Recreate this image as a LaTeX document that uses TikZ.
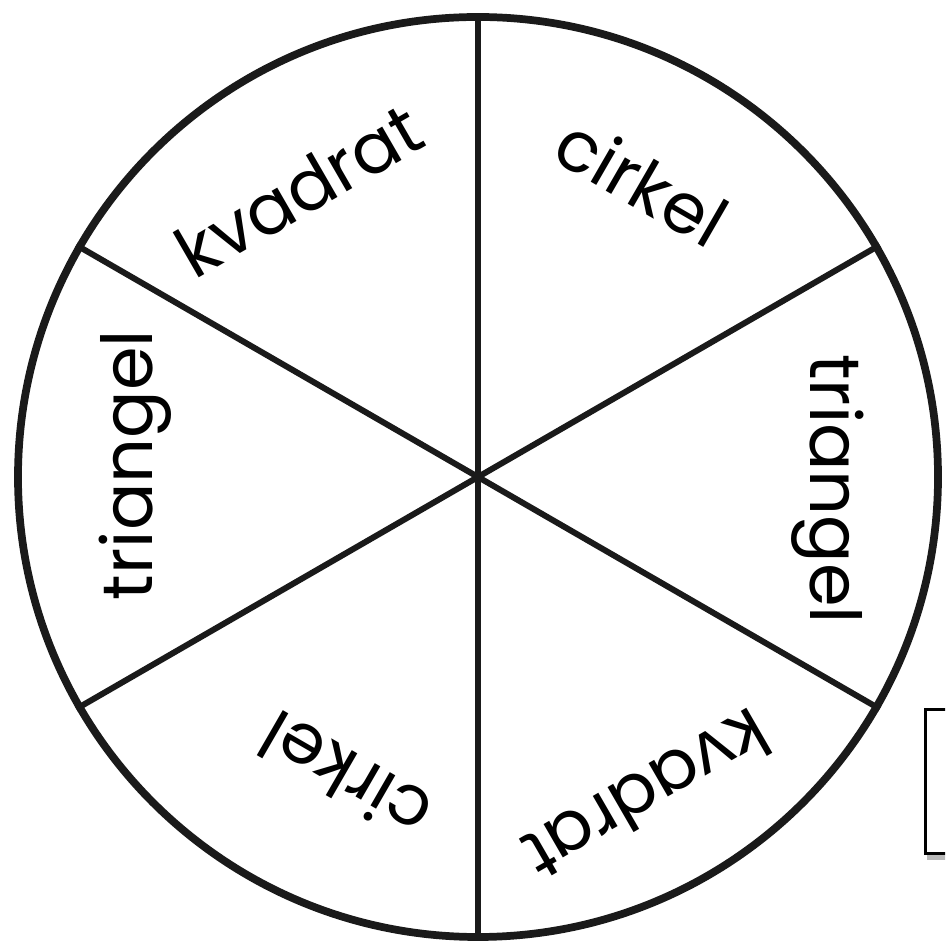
\documentclass[tikz,border=0pt]{standalone}
\usepackage{fontspec}
\setmainfont{Poppins}
\usepackage{tikz}
\usetikzlibrary{positioning}
\usepackage{xcolor}
\definecolor{WheelBlack}{HTML}{1A1A1A}
\definecolor{ShadowGray}{HTML}{B8B8B8}
\tikzset{
    % Wheel outline and spokes
    wheel/.style={
        circle,
        draw=WheelBlack,
        line width=2.2pt,
        minimum size=9.2cm,
        inner sep=0pt
    },
    spoke/.style={
        draw=WheelBlack,
        line width=1.7pt
    },
    % Sector labels
    word/.style={
        font=\fontsize{20}{24}\selectfont,
        text=black,
        inner sep=0pt
    },
    % Card at the edge
    cardbox/.style={
        rectangle,
        draw=black,
        fill=white,
        line width=0.9pt,
        minimum width=0.4cm,
        minimum height=1.44cm,
        anchor=north west
    }
}

\begin{document}
\begin{tikzpicture}
    \useasboundingbox (-4.78,-4.68) rectangle (4.67,4.77);
    \clip (-4.78,-4.68) rectangle (4.67,4.77);
    \fill[white] (-4.78,-4.68) rectangle (4.67,4.77);

    \node[wheel] (wheel) at (0,0) {};
    \draw[spoke] (wheel.90) -- (wheel.270);
    \draw[spoke] (wheel.30) -- (wheel.210);
    \draw[spoke] (wheel.150) -- (wheel.330);

    \node[word, rotate=30] (kvadratA) at (122:3.38) {kvadrat};
    \node[word, rotate=-30] (cirkelA) at (61:3.38) {cirkel};
    \node[word, rotate=-90] (triangelA) at (-2:3.5) {triangel};
    \node[word, rotate=210] (kvadratB) at (-62:3.6) {kvadrat};
    \node[word, rotate=150] (cirkelB) at (-114:3.28) {cirkel};
    \node[word, rotate=90] (triangelB) at (178:3.43) {triangel};

    \node[cardbox] (card) at (4.46,-2.31) {};
    \fill[ShadowGray] ([xshift=0.03cm]card.south west) rectangle ++(0.5,-0.05);
\end{tikzpicture}
\end{document}
